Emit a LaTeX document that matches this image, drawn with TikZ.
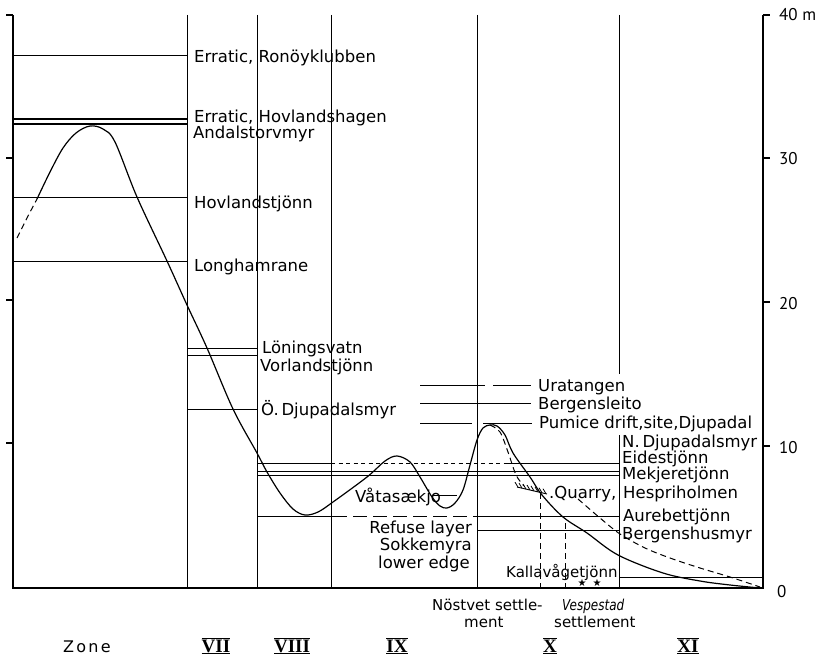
\documentclass[tikz,border=0pt]{standalone}
\usepackage{fontspec}
\setmainfont{DejaVu Sans}
\newfontfamily\digitfont{PT Sans}
\newfontfamily\romanfont{Liberation Serif}
\newfontfamily\symfont{DejaVu Sans}
\newcommand\zonenum[1]{\setbox0\hbox{\romanfont\bfseries\fontsize{19}{20}\selectfont #1}\vbox{\hrule width \wd0 height 1.3pt\kern0.6pt\copy0\kern0.6pt\hrule width \wd0 height 1.3pt}}
\begin{document}
\begin{tikzpicture}[x=1pt,y=-1pt,
  frame/.style={line width=1.1pt},
  lvl/.style={line width=1pt},
  curve/.style={line width=1.2pt},
  sdash/.style={line width=1pt, dash pattern=on 4pt off 3.5pt},
  ldash/.style={line width=1pt, dash pattern=on 14pt off 6pt},
  cdash/.style={line width=1pt, dash pattern=on 6pt off 4pt},
  lbl/.style={anchor=base west, inner sep=0pt, font=\fontsize{16.5}{18}\selectfont},
  lblr/.style={lbl, anchor=base east},
  sml/.style={anchor=base west, inner sep=0pt, font=\fontsize{15}{16}\selectfont},
  axn/.style={anchor=base west, inner sep=0pt, font=\digitfont\fontsize{17}{18}\selectfont},
  zn/.style={anchor=center, inner sep=0pt},
  star/.style={inner sep=0pt, font=\symfont\fontsize{10}{10}\selectfont}]
\useasboundingbox (0,0) rectangle (821,658);

% frame and axes
\draw[frame] (13,15) -- (13,588) -- (763,588) -- (763,15);
\foreach \yy in {15,158,300,443} \draw[frame] (13,\yy) -- (6,\yy);
\foreach \yy in {15,158,302,446} \draw[frame] (763,\yy) -- (770,\yy);

% zone boundaries
\foreach \xx in {187,257,331,477} \draw[lvl] (\xx,15) -- (\xx,588);
\draw[lvl] (619,15) -- (619,374);
\draw[lvl] (619,435) -- (619,588);

% level lines, zone VII
\draw[lvl] (13,56) -- (187,56);
\draw[line width=1.5pt] (13,119) -- (187,119);
\draw[lvl] (13,124) -- (187,124);
\draw[lvl] (13,197) -- (187,197);
\draw[lvl] (13,261) -- (187,261);
% zone VIII
\draw[lvl] (187,348) -- (257,348);
\draw[lvl] (187,355) -- (257,355);
\draw[lvl] (187,409) -- (257,409);
% zones IX-X
\draw[lvl] (257,463) -- (331,463);
\draw[sdash] (331,463) -- (505,463);
\draw[lvl] (505,463) -- (619,463);
\draw[lvl] (257,471) -- (619,471);
\draw[lvl] (257,475) -- (619,475);
\draw[lvl] (257,516) -- (347,516);
\draw[ldash] (353,516) -- (477,516);
\draw[lvl] (477,516) -- (619,516);
\draw[lvl] (477,530) -- (619,530);
\draw[lvl] (619,577) -- (763,577);
\draw[lvl] (420,385) -- (485,385);
\draw[lvl] (493,385) -- (531,385);
\draw[lvl] (420,403) -- (531,403);
\draw[lvl] (420,423) -- (472,423);
\draw[lvl] (483,423) -- (532,423);
\draw[lvl] (433,495) -- (457,495);

% settlement verticals
\draw[cdash] (540,493) -- (540,588);
\draw[cdash] (565,523) -- (565,588);

% main profile
\draw[cdash] plot[smooth] coordinates {(17,238) (27,218) (37,199)};
\draw[curve] plot[smooth, tension=0.55] coordinates {(37,199) (50,172) (63,148) (76,133) (90,126) (103,129) (115,142) (137,197) (167,261) (187,305) (207,348) (233,409) (257,453) (267,472) (280,493) (293,509) (305,515) (318,512) (333,502) (367,477) (385,461) (397,456) (410,462) (420,477) (432,497) (440,506) (447,508) (455,503) (463,490) (470,465) (477,440) (483,428) (490,425) (497,426) (505,435) (513,453) (530,477) (542,495) (563,517) (587,533) (618,555) (663,573) (700,581) (730,585) (760,588)};
% dashed alternative profile
\draw[cdash] plot[smooth] coordinates {(490,425) (500,432) (508,452) (516,475) (524,486)};
\draw[cdash] plot[smooth] coordinates {(578,499) (600,518) (620,534) (645,548) (670,558) (700,568) (730,577) (760,587)};

% quarry hatch
\draw[line width=0.9pt] (517,487) -- (547,494);
\foreach \i in {0,...,7} \draw[line width=0.8pt] ({518+4*\i},{487.2+0.93*\i}) -- ++(-3,-5);

% stars
\node[star] (st1) at (582,583) {★};
\node[star] (st2) at (597,583) {★};

% labels
\node[lbl] (ron) at (194,63) {Erratic, Ronöyklubben};
\node[lbl] (hvh) at (194,122) {Erratic, Hovlandshagen};
\node[lbl] (and) at (193,138) {Andalstorvmyr};
\node[lbl] (hvt) at (194,208) {Hovlandstjönn};
\node[lbl] (lon) at (194,271) {Longhamrane};
\node[lbl] (lon2) at (262,353) {Löningsvatn};
\node[lbl] (vor) at (260,371) {Vorlandstjönn};
\node[lbl] (odj) at (261,415) {Ö.\,Djupadalsmyr};
\node[lbl] (ura) at (538,391) {Uratangen};
\node[lbl] (ber) at (538,409) {Bergensleito};
\node[lbl] (pum) at (539,428) {Pumice drift,site,Djupadal};
\node[lbl] (ndj) at (622,447) {N.\,Djupadalsmyr};
\node[lbl] (eid) at (622,463) {Eidestjönn};
\node[lbl] (mek) at (622,479) {Mekjeretjönn};
\node[lbl] (hes) at (623,498) {Hespriholmen};
\node[lbl] (qua) at (549,498) {.Quarry,};
\node[lbl] (aur) at (623,521) {Aurebettjönn};
\node[lbl] (bgh) at (622,539) {Bergenshusmyr};
\node[sml] (kal) at (506,577) {Kallavågetjönn};
\node[lbl] (vat) at (355,502) {Våtasækjo};
\node[lblr] (ref) at (472,533) {Refuse layer};
\node[lblr] (sok) at (472,550) {Sokkemyra};
\node[lblr] (low) at (470,568) {lower edge};
\node[sml] (nos) at (432,610) {Nöstvet settle-};
\node[sml] (nos2) at (464,627) {ment};
\node[anchor=base west, inner sep=0pt, font=\itshape\fontsize{15}{16}\selectfont] (ves) at (562,610) {\scalebox{0.8}[1]{Vespestad}};
\node[sml] (ves2) at (554,627) {settlement};
\node[anchor=base west, inner sep=0pt, font=\fontsize{16}{18}\selectfont\addfontfeature{LetterSpace=14}] (zone) at (63,652) {Zone};
\node[zn] (z7) at (216,646) {\zonenum{VII}};
\node[zn] (z8) at (292,646) {\zonenum{VIII}};
\node[zn] (z9) at (397,646) {\zonenum{IX}};
\node[zn] (z10) at (550,646) {\zonenum{X}};
\node[zn] (z11) at (688,646) {\zonenum{XI}};

% axis numbers
\node[axn] (a40) at (779,21) {40 m};
\node[axn] (a30) at (779,164) {30};
\node[axn] (a20) at (779,309) {20};
\node[axn] (a10) at (779,453) {10};
\node[axn] (a0) at (777,597) {0};
\end{tikzpicture}
\end{document}
